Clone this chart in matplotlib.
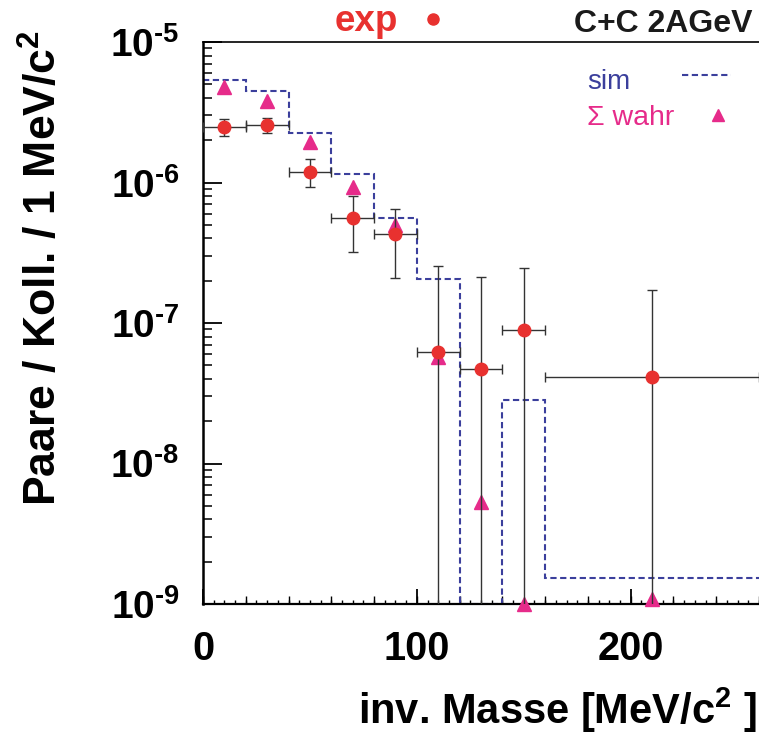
import numpy as np
import matplotlib
matplotlib.use("Agg")
import matplotlib.pyplot as plt
from matplotlib.ticker import MultipleLocator, LogLocator, NullFormatter, FuncFormatter

plt.rcParams['font.family'] = ['Liberation Sans', 'DejaVu Sans']
plt.rcParams['mathtext.fontset'] = 'custom'
plt.rcParams['mathtext.rm'] = 'Liberation Sans:bold'
plt.rcParams['mathtext.bf'] = 'Liberation Sans:bold'
plt.rcParams['mathtext.it'] = 'Liberation Sans:bold'

# ---- data ----
# experiment (red circles)
exp_x = [10, 30, 50, 70, 90, 110, 130, 150, 210]
exp_xerr = [10, 10, 10, 10, 10, 10, 10, 10, 50]
exp_y = [2.47e-6, 2.55e-6, 1.19e-6, 5.6e-7, 4.3e-7, 6.25e-8, 4.7e-8, 8.9e-8, 4.1e-8]
exp_hi = [2.82e-6, 2.87e-6, 1.46e-6, 8.0e-7, 6.5e-7, 2.56e-7, 2.12e-7, 2.48e-7, 1.73e-7]
exp_lo = [2.14e-6, 2.24e-6, 9.3e-7, 3.22e-7, 2.09e-7, 1e-10, 1e-10, 1e-10, 1e-10]

# sum of true contributions (magenta triangles)
wahr_x = [10, 30, 50, 70, 90, 110, 130, 150, 210]
wahr_y = [4.8e-6, 3.8e-6, 1.95e-6, 9.3e-7, 5.0e-7, 5.7e-8, 5.3e-9, 1.0e-9, 1.08e-9]

# simulation histogram (blue dashed)
sim_edges = [0, 20, 40, 60, 80, 100, 120, 140, 160, 270]
sim_vals = [5.37e-6, 4.48e-6, 2.24e-6, 1.15e-6, 5.58e-7, 2.05e-7, 1.0e-9, 2.83e-8, 1.52e-9]

RED = '#e8312f'
MAG = '#e62b8a'
BLUE = '#3b3f9c'

fig = plt.figure(figsize=(7.59, 7.37), dpi=100)
ax = fig.add_axes([203/759, 1-604/737, 556/759, 562/737])
ax.set_yscale('log')
ax.set_xlim(0, 260)
ax.set_ylim(1e-9, 1e-5)

ax.stairs(sim_vals, sim_edges, baseline=None, color=BLUE, lw=1.5,
          linestyle=(0, (3, 1.7)), zorder=2)

ax.plot(wahr_x, wahr_y, linestyle='none', marker='^', ms=10.5, color=MAG,
        clip_on=False, zorder=3)

yerr = [np.array(exp_y) - np.array(exp_lo), np.array(exp_hi) - np.array(exp_y)]
ax.errorbar(exp_x, exp_y, xerr=exp_xerr, yerr=yerr, fmt='none', ecolor='#333333',
            elinewidth=1.0, capsize=3.5, capthick=1.0, zorder=4)
ax.plot(exp_x, exp_y, linestyle='none', marker='o', ms=9, color=RED,
        markeredgecolor=RED, zorder=5)

# spines
ax.spines['right'].set_visible(False)
ax.spines['left'].set_linewidth(1.8)
ax.spines['bottom'].set_linewidth(1.6)
ax.spines['top'].set_linewidth(1.2)

# y ticks
ax.yaxis.set_major_locator(LogLocator(base=10, numticks=10))
ax.yaxis.set_minor_locator(LogLocator(base=10, subs=np.arange(2, 10), numticks=20))
ax.yaxis.set_minor_formatter(NullFormatter())
ax.yaxis.set_major_formatter(FuncFormatter(lambda v, p: r'$10^{\text{%d}}$' % int(round(np.log10(v)))))
ax.tick_params(axis='y', which='major', direction='in', length=14, width=1.3,
               labelsize=28, pad=17, right=False)
ax.tick_params(axis='y', which='minor', direction='in', length=6.5, width=1.1, right=False)

# x ticks
ax.xaxis.set_major_locator(MultipleLocator(100))
ax.xaxis.set_minor_locator(MultipleLocator(5))
ax.tick_params(axis='x', which='major', direction='in', length=11, width=1.3,
               labelsize=28.5, pad=19, top=False)
ax.tick_params(axis='x', which='minor', direction='in', length=3, width=1.0, top=False)
for lab in ax.get_xticklabels():
    lab.set_fontweight('bold')
sec = ax.secondary_xaxis('bottom')
sec.xaxis.set_major_locator(MultipleLocator(20))
sec.xaxis.set_minor_locator(MultipleLocator(1000))
sec.tick_params(axis='x', direction='in', length=5.5, width=1.0, labelbottom=False)
sec.spines['bottom'].set_visible(False)
sec.xaxis.label.set_visible(False)
sec.xaxis.offsetText.set_visible(False)

ax.set_xlabel('inv. Masse [MeV/c$^{2}$ ]', fontsize=30, fontweight='bold', loc='right')
ax.xaxis.set_label_coords(0.997, -0.145)
ax.set_ylabel('Paare / Koll. / 1 MeV/c$^{2}$', fontsize=32, fontweight='bold', loc='top')
ax.yaxis.set_label_coords(-0.247, 1.022)

# legend entries (manual)
ax.text(0.6906, 0.9164, 'sim', color=BLUE, fontsize=20, transform=ax.transAxes)
ax.plot([0.8615, 0.9496], [0.9413, 0.9413], transform=ax.transAxes, color=BLUE,
        lw=1.5, linestyle=(0, (3, 1.7)), clip_on=False)
ax.text(0.6906, 0.8523, '\u03a3 wahr', color=MAG, fontsize=20.5, transform=ax.transAxes)
ax.plot([0.9263], [0.8701], transform=ax.transAxes, marker='^', ms=9, color=MAG,
        linestyle='none', clip_on=False)

# top labels
fig.text(0.4414, 0.958, 'exp', color=RED, fontsize=26.5, fontweight='bold')
fig.add_artist(plt.Line2D([0.5705], [0.9742], marker='o', ms=8, color=RED,
                          linestyle='none', transform=fig.transFigure))
fig.text(0.992, 0.9566, 'C+C 2AGeV', color='#1a1a1a', fontsize=23, fontweight='bold', ha='right')

fig.savefig('out.png', dpi=100)
